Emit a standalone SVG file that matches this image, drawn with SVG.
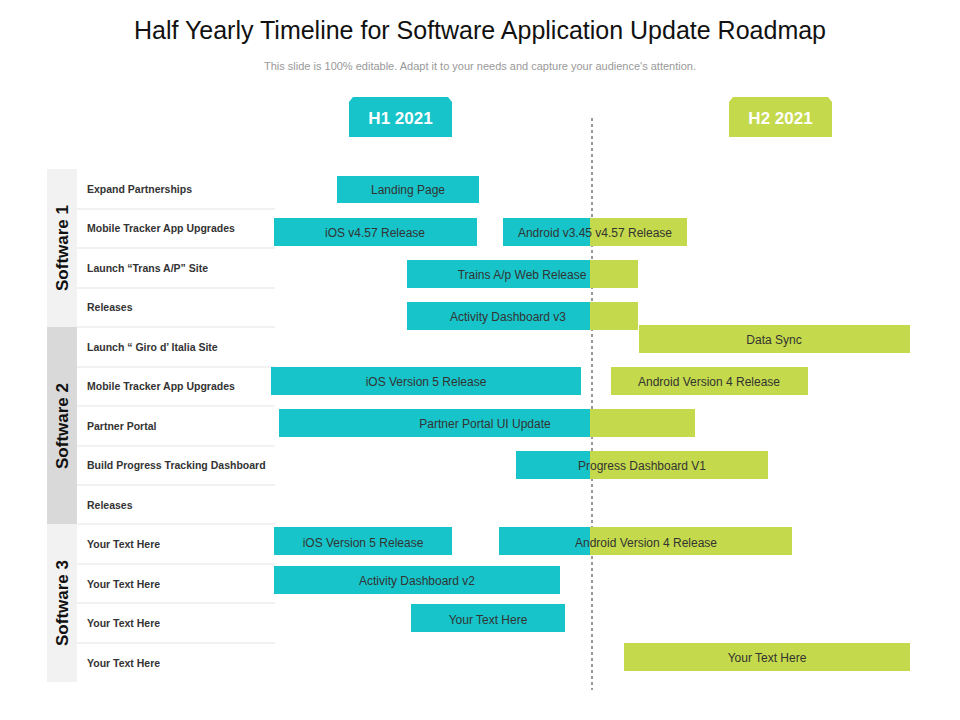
<svg xmlns="http://www.w3.org/2000/svg" width="960" height="720" viewBox="0 0 960 720">
<style>
.t{fill:#17c4c9}.g{fill:#c4d94b}
.bl{font-family:"Liberation Sans",Arial,sans-serif;font-size:12px;fill:#333;text-anchor:middle}
.rl{font-family:"Liberation Sans",Arial,sans-serif;font-size:10.5px;font-weight:bold;fill:#333}
.sw{font-family:"Liberation Sans",Arial,sans-serif;font-size:17px;font-weight:bold;fill:#111;text-anchor:middle}
.sep{stroke:#eeeeee;stroke-width:1.5}
</style>
<rect width="960" height="720" fill="#fff"/>
<text x="480" y="39" text-anchor="middle" font-family="'Liberation Sans',Arial,sans-serif" font-size="25" fill="#111">Half Yearly Timeline for Software Application Update Roadmap</text>
<text x="480" y="70" text-anchor="middle" font-family="'Liberation Sans',Arial,sans-serif" font-size="11" fill="#999">This slide is 100% editable. Adapt it to your needs and capture your audience's attention.</text>
<g id="h1"><path d="M353 97H448L452 102V137H349V102Z" class="t"/><text x="400.5" y="124" text-anchor="middle" font-family="'Liberation Sans',Arial,sans-serif" font-size="17" font-weight="bold" fill="#fff">H1 2021</text></g>
<g id="h2"><path d="M733 97H828L832 102V137H729V102Z" class="g"/><text x="780.5" y="124" text-anchor="middle" font-family="'Liberation Sans',Arial,sans-serif" font-size="17" font-weight="bold" fill="#fff">H2 2021</text></g>
<g id="sidebar">
<rect x="47" y="169" width="30" height="158" fill="#f2f2f2"/>
<rect x="47" y="327" width="30" height="197" fill="#d9d9d9"/>
<rect x="47" y="524" width="30" height="158" fill="#f2f2f2"/>
<text class="sw" transform="translate(68,248) rotate(-90)">Software 1</text>
<text class="sw" transform="translate(68,426) rotate(-90)">Software 2</text>
<text class="sw" transform="translate(68,603) rotate(-90)">Software 3</text>
</g>
<g id="rows">
<line class="sep" x1="77" y1="209" x2="275" y2="209"/><line class="sep" x1="77" y1="248" x2="275" y2="248"/><line class="sep" x1="77" y1="288" x2="275" y2="288"/><line class="sep" x1="77" y1="327" x2="275" y2="327"/><line class="sep" x1="77" y1="367" x2="275" y2="367"/><line class="sep" x1="77" y1="406" x2="275" y2="406"/><line class="sep" x1="77" y1="446" x2="275" y2="446"/><line class="sep" x1="77" y1="485" x2="275" y2="485"/><line class="sep" x1="77" y1="524" x2="275" y2="524"/><line class="sep" x1="77" y1="564" x2="275" y2="564"/><line class="sep" x1="77" y1="603" x2="275" y2="603"/><line class="sep" x1="77" y1="643" x2="275" y2="643"/>
<text class="rl" x="87" y="193">Expand Partnerships</text>
<text class="rl" x="87" y="232">Mobile Tracker App Upgrades</text>
<text class="rl" x="87" y="272">Launch “Trans A/P” Site</text>
<text class="rl" x="87" y="311">Releases</text>
<text class="rl" x="87" y="351">Launch “ Giro d’ Italia Site</text>
<text class="rl" x="87" y="390">Mobile Tracker App Upgrades</text>
<text class="rl" x="87" y="430">Partner Portal</text>
<text class="rl" x="87" y="469">Build Progress Tracking Dashboard</text>
<text class="rl" x="87" y="509">Releases</text>
<text class="rl" x="87" y="548">Your Text Here</text>
<text class="rl" x="87" y="588">Your Text Here</text>
<text class="rl" x="87" y="627">Your Text Here</text>
<text class="rl" x="87" y="667">Your Text Here</text>
</g>
<g id="connectors"><line x1="592" y1="118" x2="592" y2="690" stroke="#333" stroke-dasharray="3,3"/></g>
<g id="bars">
<rect class="t" x="337" y="176" width="142" height="27"/><text class="bl" x="408" y="194">Landing Page</text>
<rect class="t" x="274" y="218" width="203" height="28"/><text class="bl" x="375" y="237">iOS v4.57 Release</text>
<rect class="t" x="503" y="218" width="87" height="28"/><rect class="g" x="590" y="218" width="97" height="28"/><text class="bl" x="595" y="237">Android v3.45  v4.57 Release</text>
<rect class="t" x="407" y="260" width="183" height="28"/><rect class="g" x="590" y="260" width="48" height="28"/><text class="bl" x="522" y="279">Trains A/p Web Release</text>
<rect class="t" x="407" y="302" width="183" height="28"/><rect class="g" x="590" y="302" width="48" height="28"/><text class="bl" x="508" y="321">Activity  Dashboard v3</text>
<rect class="g" x="639" y="325" width="271" height="28"/><text class="bl" x="774" y="344">Data Sync</text>
<rect class="t" x="271" y="367" width="310" height="28"/><text class="bl" x="426" y="386">iOS Version 5 Release</text>
<rect class="g" x="611" y="367" width="197" height="28"/><text class="bl" x="709" y="386">Android Version 4 Release</text>
<rect class="t" x="279" y="409" width="311" height="28"/><rect class="g" x="590" y="409" width="105" height="28"/><text class="bl" x="485" y="428">Partner Portal UI Update</text>
<rect class="t" x="516" y="451" width="74" height="28"/><rect class="g" x="590" y="451" width="178" height="28"/><text class="bl" x="642" y="470">Progress Dashboard V1</text>
<rect class="t" x="274" y="527" width="178" height="28"/><text class="bl" x="363" y="547">iOS Version 5 Release</text>
<rect class="t" x="499" y="527" width="91" height="28"/><rect class="g" x="590" y="527" width="202" height="28"/><text class="bl" x="646" y="547">Android Version 4 Release</text>
<rect class="t" x="274" y="566" width="286" height="28"/><text class="bl" x="417" y="585">Activity  Dashboard v2</text>
<rect class="t" x="411" y="604" width="154" height="28"/><text class="bl" x="488" y="624">Your Text Here</text>
<rect class="g" x="624" y="643" width="286" height="28"/><text class="bl" x="767" y="662">Your Text Here</text>
</g>
</svg>
